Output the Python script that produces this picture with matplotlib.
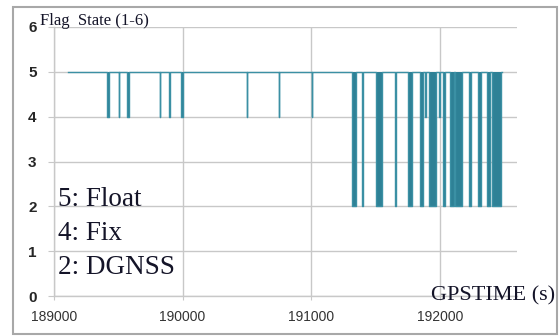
import numpy as np
import matplotlib.pyplot as plt
from matplotlib.patches import Rectangle

# flag series: starts at Float (5), short drops to Fix (4) or DGNSS (2)
t_start, t_end = 189109, 192480
drop_t = [189412, 189505, 189567, 189824, 189894, 189987, 190500, 190748, 191005,
          191316, 191393, 191502, 191650, 191756, 191844, 191883, 191916, 191994,
          192023, 192077, 192121, 192227, 192297, 192370, 192409]
drop_w = [14, 3, 14, 3, 5, 14, 3, 3, 3,
          31, 6, 47, 10, 31, 25, 8, 52, 6,
          14, 33, 49, 18, 22, 22, 70]
drop_lvl = [4, 4, 4, 4, 4, 4, 4, 4, 4,
            2, 2, 2, 2, 2, 2, 4, 2, 4,
            2, 2, 2, 2, 2, 2, 2]

x_ticks = [189000, 190000, 191000, 192000]
y_ticks = [0, 1, 2, 3, 4, 5, 6]
legend_lines = ["5: Float", "4: Fix", "2: DGNSS"]

times = [t_start]
vals = [5]
for t, w, l in zip(drop_t, drop_w, drop_lvl):
    times += [t, t + w]
    vals += [l, 5]
times.append(t_end)
vals.append(5)
times = np.array(times)
vals = np.array(vals)

fig = plt.figure(figsize=(5.6, 3.36), dpi=100)
ax = fig.add_axes([54/560, 1-296/336, (517-54)/560, (296-27)/336])

line_col = '#3b90a4'
ax.fill_between(times, vals, 5, step='post', color='#2e8196', lw=0)
ax.plot(times, vals, drawstyle='steps-post', color=line_col, lw=1.0)

ax.set_xlim(189000, 192600)
ax.set_ylim(0, 6)
ax.set_xticks(x_ticks)
ax.set_yticks(y_ticks)
ax.grid(True, color='#c8c8c8', lw=1.0)
ax.set_axisbelow(True)
for s in ['top', 'right']:
    ax.spines[s].set_visible(False)
for s in ['left', 'bottom']:
    ax.spines[s].set_color('#c8c8c8')
    ax.spines[s].set_linewidth(1.0)
ax.tick_params(axis='y', length=4.5, color='#c8c8c8', pad=8, labelsize=11,
               labelcolor='#262626')
ax.tick_params(axis='x', length=3, color='#c8c8c8', pad=7, labelsize=10,
               labelcolor='#333333')
for lab in ax.get_yticklabels():
    lab.set_fontweight('bold')
    lab.set_family('Liberation Sans')
for lab in ax.get_xticklabels():
    lab.set_family('Liberation Sans')

serif = 'Liberation Serif'
fig.text(40/560, 1-25/336, "Flag  State (1-6)", family=serif, fontsize=12,
         color='#141428', va='baseline')
for i, txt in enumerate(legend_lines):
    fig.text(58/560, 1-(206 + 34*i)/336, txt, family=serif, fontsize=19.5,
             color='#141428', va='baseline')
fig.text(431/560, 1-300/336, "GPSTIME (s)", family=serif, fontsize=16,
         color='#141428', va='baseline')

fig.patches.append(Rectangle((13/560, 2/336), 544/560, 327/336, transform=fig.transFigure,
                             fill=False, edgecolor='#a8a8a8', lw=1.5))

fig.savefig('out.png', dpi=100)
